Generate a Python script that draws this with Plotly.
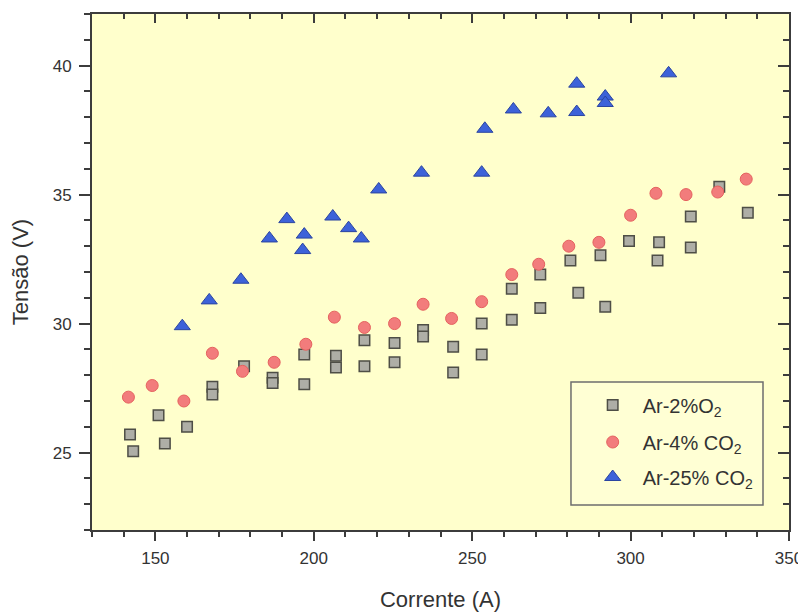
import plotly.graph_objects as go

# Ar-2%O2 (squares)
sq_x = [142, 143, 151, 153, 160, 168, 168, 178, 187, 187, 197, 197, 207, 207,
        216, 216, 225.5, 225.5, 234.5, 234.5, 244, 244, 253, 253, 262.5, 262.5,
        271.5, 271.5, 281, 283.5, 290.5, 292, 299.5, 309, 308.5, 319, 319, 328, 337]
sq_y = [25.7, 25.05, 26.45, 25.35, 26.0, 27.55, 27.25, 28.35, 27.9, 27.7, 28.8, 27.65, 28.75, 28.3,
        29.35, 28.35, 29.25, 28.5, 29.75, 29.5, 29.1, 28.1, 30.0, 28.8, 30.15, 31.35,
        31.9, 30.6, 32.45, 31.2, 32.65, 30.65, 33.2, 33.15, 32.45, 34.15, 32.95, 35.3, 34.3]

# Ar-4% CO2 (circles)
ci_x = [141.5, 149, 159, 168, 177.5, 187.5, 197.5, 206.5, 216, 225.5, 234.5, 243.5,
        253, 262.5, 271, 280.5, 290, 300, 308, 317.5, 327.5, 336.5]
ci_y = [27.15, 27.6, 27.0, 28.85, 28.15, 28.5, 29.2, 30.25, 29.85, 30.0, 30.75, 30.2,
        30.85, 31.9, 32.3, 33.0, 33.15, 34.2, 35.05, 35.0, 35.1, 35.6]

# Ar-25% CO2 (triangles)
tr_x = [158.5, 167, 177, 186, 191.5, 197, 196.5, 206, 211, 215, 220.5, 234,
        253, 254, 263, 274, 283, 283, 292, 292, 312]
tr_y = [29.9, 30.9, 31.7, 33.3, 34.05, 33.45, 32.85, 34.15, 33.7, 33.3, 35.2, 35.85,
        35.85, 37.55, 38.3, 38.15, 38.2, 39.3, 38.8, 38.55, 39.7]

names = ["Ar-2%O<sub>2</sub>", "Ar-4% CO<sub>2</sub>", "Ar-25% CO<sub>2</sub>"]

x_range = [130, 350]
y_range = [22, 42]

FONT = "Liberation Sans, Arial, sans-serif"
TXT = "#333333"
line_col = "#3C3C3C"

fig = go.Figure()
fig.add_trace(go.Scatter(x=sq_x, y=sq_y, mode="markers", name=names[0], legend="legend",
                         marker=dict(symbol="square", size=10.5, color="#AEAEA6",
                                     line=dict(color="#4E4E46", width=1.5))))
fig.add_trace(go.Scatter(x=ci_x, y=ci_y, mode="markers", name=names[1], legend="legend2",
                         marker=dict(symbol="circle", size=12, color="#F27C7C",
                                     line=dict(color="#E5625F", width=1))))
fig.add_trace(go.Scatter(x=tr_x, y=tr_y, mode="markers", name=names[2], legend="legend3",
                         marker=dict(symbol="triangle-up", size=14, color="#3D62D9",
                                     line=dict(color="#2B45A0", width=1))))
# empty trace so that the mirrored (inside-tick) top/right axes are drawn
fig.add_trace(go.Scatter(x=[], y=[], xaxis="x2", yaxis="y2", showlegend=False, hoverinfo="skip"))

tick_font = dict(family=FONT, size=17, color=TXT)
title_font = dict(family=FONT, size=22, color=TXT)
leg_font = dict(family=FONT, size=20, color=TXT)


def leg(y):
    return dict(x=0.704, y=y, xanchor="left", yanchor="middle",
                bgcolor="rgba(0,0,0,0)", borderwidth=0, font=leg_font, itemwidth=50)


# the page body adds an 8 px offset, so the figure is 8 px smaller each way
fig.update_layout(
    width=798, height=607,
    margin=dict(l=84, r=17, t=6, b=85),
    paper_bgcolor="white",
    plot_bgcolor="#FFFFCC",
    font=tick_font,
    showlegend=True,
    legend=leg(0.2422),
    legend2=leg(0.1705),
    legend3=leg(0.1027),
    shapes=[dict(type="rect", xref="paper", yref="paper",
                 x0=0.6872, x1=0.9627, y0=0.0484, y1=0.2868,
                 line=dict(color="#6E6E6E", width=1.5), fillcolor="#FFFFD4", layer="above")],
    xaxis=dict(range=x_range, dtick=50, tick0=150, showgrid=False, zeroline=False,
               showline=True, linecolor=line_col, linewidth=2, mirror=True,
               ticks="outside", ticklen=9, tickwidth=2, tickcolor=line_col,
               ticklabelstandoff=3,
               minor=dict(dtick=10, tick0=130, ticks="outside", ticklen=5, tickwidth=1.5, tickcolor=line_col),
               title=dict(text="Corrente (A)", font=title_font, standoff=24),
               automargin=False, tickfont=tick_font),
    yaxis=dict(range=y_range, dtick=5, tick0=25, showgrid=False, zeroline=False,
               showline=True, linecolor=line_col, linewidth=2, mirror=True,
               ticks="outside", ticklen=11, tickwidth=2, tickcolor=line_col,
               ticklabelstandoff=4,
               minor=dict(dtick=1, ticks="outside", ticklen=6, tickwidth=1.5, tickcolor=line_col),
               title=dict(text="Tensão (V)", font=title_font, standoff=18),
               automargin=False, tickfont=tick_font),
    xaxis2=dict(range=x_range, overlaying="x", side="top", anchor="y2", matches="x",
                dtick=50, tick0=150, showgrid=False, zeroline=False, showline=False,
                showticklabels=False, ticks="inside", ticklen=9, tickwidth=2, tickcolor=line_col,
                minor=dict(dtick=10, tick0=130, ticks="inside", ticklen=5, tickwidth=1.5, tickcolor=line_col)),
    yaxis2=dict(range=y_range, overlaying="y", side="right", anchor="x2", matches="y",
                dtick=5, tick0=25, showgrid=False, zeroline=False, showline=False,
                showticklabels=False, ticks="inside", ticklen=11, tickwidth=2, tickcolor=line_col,
                minor=dict(dtick=1, ticks="inside", ticklen=6, tickwidth=1.5, tickcolor=line_col)),
)

fig.write_html("out.html")
